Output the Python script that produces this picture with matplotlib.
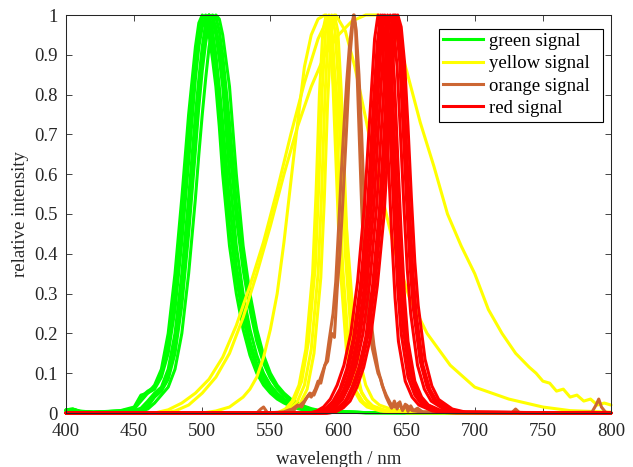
import matplotlib
matplotlib.use('Agg')
import matplotlib.pyplot as plt
from matplotlib.lines import Line2D
from matplotlib.patches import Rectangle

plt.rcParams['font.family'] = ['Liberation Serif', 'DejaVu Serif']

# ---------------- data ----------------
x_ticks = [400, 450, 500, 550, 600, 650, 700, 750, 800]
y_ticks = [0, 0.1, 0.2, 0.3, 0.4, 0.5, 0.6, 0.7, 0.8, 0.9, 1.0]
y_tick_labels = ['0', '0.1', '0.2', '0.3', '0.4', '0.5', '0.6', '0.7', '0.8', '0.9', '1']

series_names = ['green signal', 'yellow signal', 'orange signal', 'red signal']
series_colors = ['#00ff00', '#ffff00', '#cc6633', '#ff0000']

green_wl = [400, 405, 410, 420, 440,
            450, 455, 460, 465, 470, 475, 480, 485, 490, 495,
            497.5, 500, 502.5, 505, 507.5, 510, 512.5,
            515, 520, 525, 530, 535, 540, 545, 550, 555, 560, 565, 570, 575, 580, 585,
            600, 620, 800]
green_val = [
    [.008, .01, .004, .002, .006,
     .015, .045, .05, .07, .11, .2, .35, .54, .75, .92,
     .98, 1.0, .99, .95, .89, .82, .72,
     .6, .42, .3, .21, .145, .1, .07, .05, .035, .025, .017, .011, .007, .004, .003,
     .002, .001, 0],
    [.008, .01, .005, .002, .005,
     .01, .03, .05, .06, .09, .15, .26, .43, .63, .84,
     .92, .97, .995, 1.0, .96, .9, .82,
     .73, .53, .37, .27, .18, .125, .088, .062, .044, .031, .022, .015, .009, .006, .004,
     .002, .001, 0],
    [.007, .009, .004, .002, .005,
     .012, .04, .055, .065, .1, .17, .3, .48, .69, .88,
     .95, .99, 1.0, .98, .93, .87, .78,
     .67, .47, .34, .24, .165, .115, .08, .056, .04, .028, .02, .013, .008, .005, .003,
     .002, .001, 0],
    [.006, .008, .003, .002, .004,
     .006, .012, .03, .05, .065, .11, .2, .35, .54, .75,
     .84, .92, .98, 1.0, .99, .95, .89,
     .82, .6, .42, .3, .21, .145, .1, .07, .05, .035, .025, .017, .011, .007, .004,
     .002, .001, 0],
    [.007, .009, .004, .002, .004,
     .005, .01, .02, .045, .06, .1, .18, .32, .5, .71,
     .81, .89, .96, 1.0, .995, .97, .92,
     .86, .67, .49, .36, .26, .18, .125, .088, .062, .044, .031, .021, .014, .009, .006,
     .003, .001, 0],
    [.005, .006, .003, .001, .003,
     .004, .008, .016, .04, .055, .085, .15, .27, .45, .66,
     .77, .86, .93, .98, 1.0, .995, .96,
     .9, .73, .53, .38, .27, .19, .13, .09, .063, .045, .032, .022, .015, .009, .006,
     .003, .001, 0],
    [.004, .006, .003, .001, .002,
     .003, .005, .01, .025, .045, .065, .11, .2, .35, .54,
     .65, .75, .84, .92, .97, 1.0, .99,
     .95, .82, .6, .42, .3, .21, .145, .1, .07, .05, .035, .025, .017, .011, .007,
     .004, .001, 0],
]

yellow_wl = [
    [400, 470, 480, 490, 500, 510, 520, 530, 540, 550, 560, 570, 580, 590, 600, 610, 620, 630, 640, 645,
     650, 660, 670, 680, 690, 700, 710, 720, 730, 740, 745, 750, 755, 760, 765, 770, 775, 780, 785, 790,
     795, 800],
    [400, 465, 475, 485, 495, 505, 515, 525, 535, 545, 555, 565, 575, 585, 592, 598, 605, 612, 620, 627,
     633, 642, 652, 665, 682, 700, 725, 750, 770, 800],
    [400, 500, 510, 520, 530, 535, 540, 545, 550, 555, 560, 565, 570, 575, 580, 585, 590, 595, 600, 605,
     610, 615, 620, 625, 630, 640, 660, 800],
    [400, 555, 561, 566, 571, 576, 581, 583.5, 586, 588.5, 591, 593.5, 596, 598.5, 601, 606, 611, 616,
     621, 631, 650, 800],
    [400, 557, 563, 568, 573, 578, 583, 585.5, 588, 590.5, 593, 595.5, 598, 600.5, 603, 608, 613, 618,
     623, 633, 650, 800],
    [400, 559, 565, 570, 575, 580, 585, 587.5, 590, 592.5, 595, 597.5, 600, 602.5, 605, 610, 615, 620,
     625, 635, 650, 800],
    [400, 561, 567, 572, 577, 582, 587, 589.5, 592, 594.5, 597, 599.5, 602, 604.5, 607, 612, 617, 622,
     627, 637, 650, 800],
]
yellow_val = [
    [0, 0, .005, .02, .05, .09, .15, .24, .35, .47, .6, .72, .82, .9, .95, .985, 1.0, 1.0, .97, .92,
     .86, .73, .62, .5, .42, .35, .26, .2, .15, .115, .1, .08, .075, .055, .06, .04, .045, .03, .035, .02,
     .025, .02],
    [0, 0, .008, .025, .05, .085, .14, .22, .32, .43, .56, .7, .83, .94, .99, 1.0, .96, .87, .74, .62,
     .53, .4, .29, .2, .12, .065, .035, .015, .006, .002],
    [0, 0, .005, .015, .04, .06, .09, .14, .21, .3, .43, .58, .73, .87, .95, .99, 1.0, .93, .75, .5,
     .28, .14, .07, .035, .02, .008, .002, 0],
    [0, 0, .01, .03, .07, .16, .35, .55, .8, .96, 1.0, .96, .82, .6, .38, .15, .06, .03, .015, .005, .001, 0],
    [0, 0, .012, .035, .08, .18, .37, .57, .81, .96, 1.0, .95, .8, .58, .37, .14, .055, .028, .014, .005, .001, 0],
    [0, 0, .01, .03, .07, .16, .35, .54, .79, .96, 1.0, .96, .83, .62, .4, .16, .065, .035, .018, .006, .001, 0],
    [0, 0, .008, .025, .06, .15, .34, .53, .78, .95, 1.0, .96, .81, .59, .37, .13, .05, .025, .012, .004, .001, 0],
]

orange_wl = [
    [400, 540, 543, 545, 548, 560, 564, 567, 569, 572, 575, 578, 580, 583, 585, 587, 590, 592,
     595, 597, 599, 601, 603, 606, 608.5, 611, 612.5, 614, 617, 619, 621, 623, 625, 627, 629,
     631, 633, 635, 637, 639, 641, 643, 645, 647, 649, 651, 653, 655, 658, 662, 700, 727, 730,
     733, 760, 786, 789, 791, 793, 796, 800],
    [400, 560, 566, 570, 573, 576, 579, 582, 585, 588, 591, 593, 596, 598, 600, 602, 604, 606, 608, 610,
     611.5, 613, 615, 617, 619, 621, 623, 626, 629, 632, 635, 638, 641, 644, 647, 650, 654, 660, 800],
]
orange_val = [
    [0, 0, .01, .015, 0, .003, .008, .005, .015, .02, .03, .045, .04, .06, .08, .075, .12, .13,
     .2, .19, .31, .4, .52, .72, .9, 1.0, .97, .82, .52, .35, .24, .2, .16, .13, .1,
     .085, .06, .04, .025, .012, .03, .01, .028, .006, .022, .004, .018, .006, .012, .002, .001, 0, .01,
     0, .001, .002, .02, .035, .015, .002, 0],
    [0, 0, .01, .02, .015, .035, .05, .045, .07, .1, .13, .18, .25, .33, .46, .6, .72, .83, .92, .98,
     1.0, .96, .85, .7, .52, .36, .26, .17, .11, .07, .045, .025, .015, .025, .008, .02, .006, .003, 0],
]

red_wl = [
    [400, 579, 584, 589, 594, 599, 604, 609, 614, 619, 621.5, 624, 626.5, 629, 631.5, 634, 636.5, 639,
     641.5, 644, 649, 654, 659, 669, 679, 800],
    [400, 581, 586, 591, 596, 601, 606, 611, 616, 621, 623.5, 626, 628.5, 631, 633.5, 636, 638.5, 641,
     643.5, 646, 651, 656, 661, 671, 681, 800],
    [400, 582.5, 587.5, 592.5, 597.5, 602.5, 607.5, 612.5, 617.5, 622.5, 625, 627.5, 630, 632.5, 635,
     637.5, 640, 642.5, 645, 647.5, 652.5, 657.5, 662.5, 672.5, 682.5, 800],
    [400, 584, 589, 594, 599, 604, 609, 614, 619, 624, 626.5, 629, 631.5, 634, 636.5, 639, 641.5, 644,
     646.5, 649, 654, 659, 664, 674, 684, 800],
    [400, 586, 591, 596, 601, 606, 611, 616, 621, 626, 628.5, 631, 633.5, 636, 638.5, 641, 643.5, 646,
     648.5, 651, 656, 661, 666, 676, 686, 800],
    [400, 588, 593, 598, 603, 608, 613, 618, 623, 628, 630.5, 633, 635.5, 638, 640.5, 643, 645.5, 648,
     650.5, 653, 658, 663, 668, 678, 688, 800],
    [400, 590, 595, 600, 605, 610, 615, 620, 625, 630, 632.5, 635, 637.5, 640, 642.5, 645, 647.5, 650,
     652.5, 655, 660, 665, 670, 680, 690, 800],
    [400, 591, 596, 601, 606, 611, 616, 621, 626, 631, 633.5, 636, 638.5, 641, 643.5, 646, 648.5, 651,
     653.5, 656, 661, 666, 671, 681, 691, 800],
    [400, 592, 597, 602, 607, 612, 617, 622, 627, 632, 634.5, 637, 639.5, 642, 644.5, 647, 649.5, 652,
     654.5, 657, 662, 667, 672, 682, 692, 800],
    [400, 593.5, 598.5, 603.5, 608.5, 613.5, 618.5, 623.5, 628.5, 633.5, 636, 638.5, 641, 643.5, 646,
     648.5, 651, 653.5, 656, 658.5, 663.5, 668.5, 673.5, 683.5, 693.5, 800],
]
red_val = [
    [0, 0, .005, .015, .035, .07, .12, .2, .33, .52, .66, .8, .94, 1.0, .96, .84, .64, .45, .29, .18,
     .08, .04, .02, .005, .001, 0],
    [0, 0, .004, .012, .03, .06, .11, .19, .32, .5, .65, .8, .93, 1.0, .96, .85, .66, .47, .31, .2,
     .09, .045, .022, .006, .001, 0],
    [0, 0, .005, .014, .032, .065, .115, .2, .33, .52, .67, .81, .94, 1.0, .97, .86, .67, .48, .32, .21,
     .095, .048, .024, .006, .001, 0],
    [0, 0, .004, .012, .03, .06, .11, .19, .32, .51, .66, .8, .94, 1.0, .96, .85, .66, .47, .31, .2,
     .09, .045, .022, .006, .001, 0],
    [0, 0, .005, .014, .032, .065, .115, .2, .33, .52, .67, .81, .94, 1.0, .96, .84, .64, .45, .29, .18,
     .08, .04, .02, .005, .001, 0],
    [0, 0, .005, .015, .035, .07, .12, .2, .33, .52, .66, .8, .94, 1.0, .97, .87, .7, .52, .36, .25,
     .12, .06, .03, .008, .002, 0],
    [0, 0, .004, .013, .03, .065, .115, .19, .32, .51, .65, .8, .93, 1.0, .97, .88, .71, .53, .37, .26,
     .13, .065, .032, .009, .002, 0],
    [0, 0, .005, .015, .035, .07, .12, .2, .33, .52, .66, .8, .94, 1.0, .97, .87, .7, .52, .36, .25,
     .12, .06, .03, .008, .002, 0],
    [0, 0, .005, .015, .035, .07, .12, .2, .33, .52, .66, .8, .94, 1.0, .97, .87, .7, .52, .36, .25,
     .12, .06, .03, .008, .002, 0],
    [0, 0, .004, .013, .03, .065, .115, .19, .32, .5, .65, .8, .93, 1.0, .97, .88, .72, .54, .38, .27,
     .135, .068, .034, .01, .002, 0],
]

# ---------------- figure ----------------
W, H = 633, 467
AX_L, AX_R, AX_T, AX_B = 66, 611, 15, 413
fig = plt.figure(figsize=(W / 100, H / 100), dpi=100)
ax = fig.add_axes([AX_L / W, (H - AX_B) / H, (AX_R - AX_L) / W, (AX_B - AX_T) / H])

LW = 2.2
kw = dict(lw=LW, clip_on=False, solid_joinstyle='round', solid_capstyle='round')

for v in green_val:
    ax.plot(green_wl, v, color=series_colors[0], **kw)
for x, v in zip(yellow_wl, yellow_val):
    ax.plot(x, v, color=series_colors[1], **kw)
for x, v in zip(orange_wl, orange_val):
    ax.plot(x, v, color=series_colors[2], **kw)
for x, v in zip(red_wl, red_val):
    ax.plot(x, v, color=series_colors[3], **kw)

ax.set_xlim(400, 800)
ax.set_ylim(0, 1)
ax.set_xticks(x_ticks)
ax.set_yticks(y_ticks)
ax.set_yticklabels(y_tick_labels)

dark = '#262626'
ax.tick_params(axis='both', direction='in', top=True, right=True, length=4.5, width=0.6,
               labelsize=13.5, colors=dark)
ax.tick_params(axis='x', pad=7)
ax.tick_params(axis='y', pad=6)
for s in ax.spines.values():
    s.set_color(dark)
    s.set_linewidth(0.75)

ax.set_xlabel('wavelength / nm', fontsize=13.5, color=dark, labelpad=8)
ax.set_ylabel('relative intensity', fontsize=13.5, color=dark, labelpad=4)

# legend box (pixel extents from the reference, converted to axes fractions)
def ax_x(px):
    return (px - AX_L) / (AX_R - AX_L)

def ax_y(py):
    return (AX_B - py) / (AX_B - AX_T)

box = Rectangle((ax_x(439), ax_y(122)), ax_x(603) - ax_x(439), ax_y(29) - ax_y(122),
                transform=ax.transAxes, facecolor='white', edgecolor='black', lw=0.8,
                zorder=4.9, clip_on=False)
ax.add_patch(box)
handles = [Line2D([0], [0], color=c, lw=LW) for c in series_colors]
leg = ax.legend(handles, series_names, loc='upper left', bbox_to_anchor=(ax_x(439), ax_y(29)),
                borderaxespad=0, fontsize=13.5, handlelength=2.15, handletextpad=0.3,
                labelspacing=0.28, borderpad=0.2, frameon=False)
leg.set_zorder(5)

fig.savefig('out.png', dpi=100)
